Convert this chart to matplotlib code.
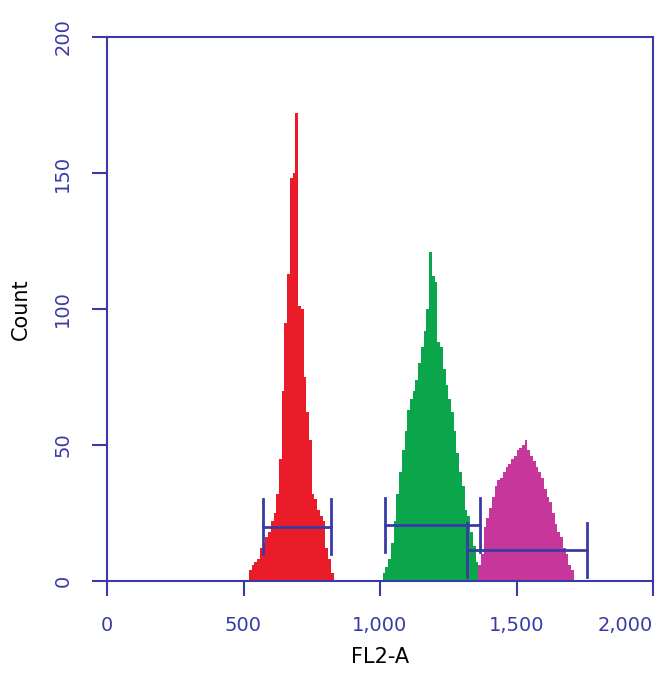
import numpy as np
import matplotlib
matplotlib.use('Agg')
import matplotlib.pyplot as plt
from matplotlib.ticker import FuncFormatter

# histogram data (FL2-A channel, bin width 10)
red_start = 520
red_counts = [4, 6, 7, 8, 12, 14, 16, 18, 22, 25, 32, 45, 70, 95, 113, 148, 150, 172,
              101, 100, 75, 62, 52, 32, 30, 26, 24, 22, 12, 8, 3]
green_start = 1010
green_counts = [3, 5, 8, 14, 22, 32, 40, 48, 55, 63, 67, 70, 74, 80, 86, 92, 100, 121,
                112, 110, 88, 86, 78, 72, 67, 62, 55, 47, 40, 35, 26, 24, 18, 13, 7]
magenta_start = 1360
magenta_counts = [6, 10, 20, 23, 27, 31, 35, 37, 38, 40, 42, 43, 45, 46, 48, 49, 50, 52,
                  48, 46, 44, 42, 40, 38, 34, 31, 29, 25, 21, 18, 16, 12, 10, 6, 4]
bin_w = 10

# gate markers: (x_left, x_right, y_level)
gates = [(570, 819, 20), (1018, 1366, 20.5), (1318, 1757, 11.5)]
gate_half = [10, 10, 10]

x_ticks = [0, 500, 1000, 1500, 2000]
y_ticks = [0, 50, 100, 150, 200]

blue = '#3a3aa6'
fam = ['Liberation Sans Narrow', 'DejaVu Sans']
fig = plt.figure(figsize=(6.61, 6.75), dpi=100)
ax = fig.add_axes([107/661, 94/675, 546/661, 544/675])

for start, counts, col in [(magenta_start, magenta_counts, '#c7379b'),
                           (green_start, green_counts, '#0ba64b'),
                           (red_start, red_counts, '#ea1c2a')]:
    edges = start + bin_w*np.arange(len(counts)+1)
    ax.stairs(counts, edges, fill=True, color=col, lw=0, zorder=2)

for (x0, x1, y), h in zip(gates, gate_half):
    ax.plot([x0, x1], [y, y], color=blue, lw=2, zorder=3)
    ax.plot([x0, x0], [y-h, y+h], color=blue, lw=2, zorder=3)
    ax.plot([x1, x1], [y-h, y+h], color=blue, lw=2, zorder=3)

ax.set_xlim(0, 2000)
ax.set_ylim(0, 200)
ax.set_xticks(x_ticks)
ax.set_yticks(y_ticks)
ax.xaxis.set_major_formatter(FuncFormatter(lambda v, p: f'{int(v):,}'))
for s in ax.spines.values():
    s.set_color(blue)
    s.set_linewidth(1.5)
ax.tick_params(axis='both', colors=blue, length=11, width=1.5, labelsize=14, pad=14)
ax.tick_params(axis='y', pad=14)
for lab in ax.get_yticklabels() + ax.get_xticklabels():
    lab.set_family(fam)
for lab in ax.get_yticklabels():
    lab.set_rotation(90)
    lab.set_va('center')
ax.get_xticklabels()[-1].set_ha('right')
ax.get_xticklabels()[-1].set_x(2010)
ax.set_xlabel('FL2-A', fontsize=15, labelpad=9, family=fam)
ax.set_ylabel('Count', fontsize=15, labelpad=16, family=fam)

fig.savefig('out.png', dpi=100)
